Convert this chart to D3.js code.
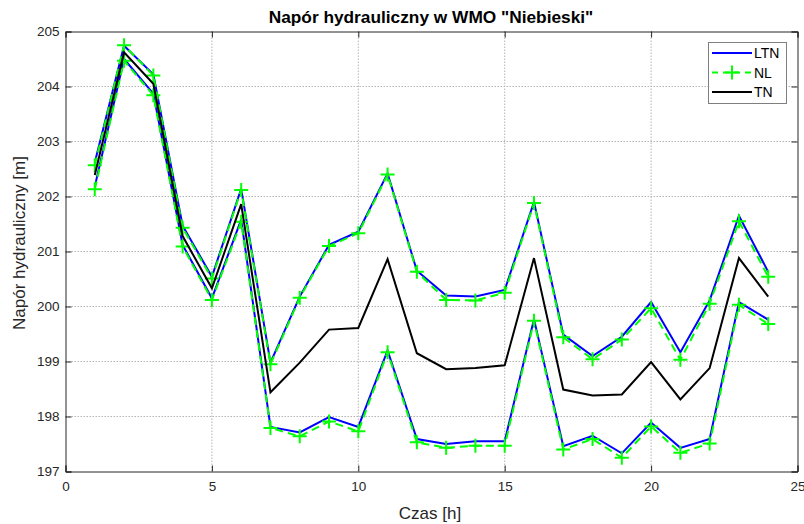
<!DOCTYPE html>
<html><head><meta charset="utf-8">
<script src="https://cdn.jsdelivr.net/npm/d3@7"></script>
<style>body{margin:0;background:#fff}svg{display:block}text{font-family:"Liberation Sans",Arial,sans-serif}</style>
</head><body><svg id="c" width="804" height="524"></svg>
<script>
const hours = d3.range(1, 25);
const ltnUpper = [202.62,204.74,204.22,201.47,200.54,202.14,198.98,200.18,201.12,201.36,202.42,200.65,200.2,200.18,200.3,201.9,199.49,199.1,199.45,200.08,199.17,200.11,201.65,200.63];
const ltnLower = [202.18,204.5,203.87,201.12,200.15,201.58,197.81,197.71,197.99,197.81,199.2,197.59,197.5,197.55,197.55,199.77,197.46,197.65,197.33,197.89,197.43,197.59,200.08,199.76];
const nlUpper  = [202.57,204.75,204.2,201.43,200.51,202.12,198.95,200.16,201.1,201.33,202.4,200.63,200.12,200.11,200.25,201.88,199.44,199.04,199.4,199.97,199.03,200.05,201.55,200.54];
const nlLower  = [202.13,204.47,203.84,201.09,200.12,201.54,197.79,197.64,197.91,197.73,199.17,197.53,197.43,197.47,197.47,199.74,197.4,197.59,197.25,197.82,197.34,197.51,200.03,199.68];
const tn       = [202.39,204.62,204.05,201.28,200.33,201.86,198.44,198.98,199.58,199.61,200.86,199.15,198.86,198.88,198.93,200.88,198.49,198.38,198.4,198.99,198.31,198.88,200.88,200.18];
const xTicks = [0,5,10,15,20,25];
const yTicks = [197,198,199,200,201,202,203,204,205];
const legendNames = ["LTN","NL","TN"];

const svg = d3.select("#c");
const L=65.5, R=797.5, T=31.5, B=471.5;
const x = d3.scaleLinear().domain([0,25]).range([L,R]);
const y = d3.scaleLinear().domain([197,205]).range([B,T]);
const axisCol = "#262626";

// grid
const g = svg.append("g");
g.selectAll(".gx").data(xTicks.slice(1,-1)).join("line")
 .attr("x1",d=>x(d)).attr("x2",d=>x(d)).attr("y1",T).attr("y2",B)
 .attr("stroke","#b4b4b4").attr("stroke-dasharray","1.5,1.5").attr("stroke-width",1);
g.selectAll(".gy").data(yTicks.slice(1,-1)).join("line")
 .attr("y1",d=>y(d)).attr("y2",d=>y(d)).attr("x1",L).attr("x2",R)
 .attr("stroke","#b4b4b4").attr("stroke-dasharray","1.5,1.5").attr("stroke-width",1);

// axes
const ax = svg.append("g").attr("transform",`translate(0,${B})`)
 .call(d3.axisBottom(x).tickValues(xTicks).tickSize(-6).tickPadding(10).tickFormat(d3.format("d")));
const axT = svg.append("g").attr("transform",`translate(0,${T})`)
 .call(d3.axisTop(x).tickValues(xTicks).tickSize(-6).tickFormat(""));
const ay = svg.append("g").attr("transform",`translate(${L},0)`)
 .call(d3.axisLeft(y).tickValues(yTicks).tickSize(-6).tickPadding(6).tickFormat(d3.format("d")));
const ayR = svg.append("g").attr("transform",`translate(${R},0)`)
 .call(d3.axisRight(y).tickValues(yTicks).tickSize(-6).tickFormat(""));
[ax,axT,ay,ayR].forEach(a=>{
  a.selectAll("path").attr("stroke",axisCol).attr("stroke-width",1);
  a.selectAll("line").attr("stroke",axisCol);
  a.selectAll("text").attr("fill",axisCol).style("font-size","13.5px");
});

// lines
const line = d3.line().x((d,i)=>x(hours[i])).y(d=>y(d));
const plot = svg.append("g");
[ltnUpper,ltnLower].forEach(s=>plot.append("path").attr("d",line(s)).attr("fill","none").attr("stroke","#0000ff").attr("stroke-width",2));
[nlUpper,nlLower].forEach(s=>{
  plot.append("path").attr("d",line(s)).attr("fill","none").attr("stroke","#00ff00").attr("stroke-width",2).attr("stroke-dasharray","8,5");
  plot.append("g").selectAll("path").data(s).join("path")
   .attr("d",(d,i)=>{const cx=x(hours[i]),cy=y(d);return `M${cx-7},${cy}H${cx+7}M${cx},${cy-7}V${cy+7}`;})
   .attr("stroke","#00ff00").attr("stroke-width",2);
});
plot.append("path").attr("d",line(tn)).attr("fill","none").attr("stroke","#000").attr("stroke-width",2);

// title & labels
svg.append("text").attr("x",431).attr("y",23).attr("text-anchor","middle")
 .style("font-size","17.3px").style("font-weight","bold").attr("fill","#000")
 .text('Napór hydrauliczny w WMO "Niebieski"');
svg.append("text").attr("x",430).attr("y",519).attr("text-anchor","middle")
 .style("font-size","17px").attr("fill",axisCol).text("Czas [h]");
svg.append("text").attr("transform",`translate(25,243) rotate(-90)`).attr("text-anchor","middle")
 .style("font-size","17px").attr("fill",axisCol).text("Napór hydrauliczny [m]");

// legend
const lg = svg.append("g");
lg.append("rect").attr("x",708.5).attr("y",42.5).attr("width",78).attr("height",61)
 .attr("fill","#fff").attr("stroke","#7f7f7f").attr("stroke-width",1);
const ly = [53,72.5,92];
const styles = [{c:"#0000ff",dash:null,m:false},{c:"#00ff00",dash:"6,5",m:true},{c:"#000",dash:null,m:false}];
legendNames.forEach((n,i)=>{
  const st=styles[i];
  lg.append("line").attr("x1",712).attr("x2",752).attr("y1",ly[i]).attr("y2",ly[i])
    .attr("stroke",st.c).attr("stroke-width",2).attr("stroke-dasharray",st.dash);
  if(st.m) lg.append("path").attr("d",`M${725},${ly[i]}H${739}M${732},${ly[i]-7}V${ly[i]+7}`).attr("stroke",st.c).attr("stroke-width",2);
  lg.append("text").attr("x",754).attr("y",ly[i]+5).style("font-size","14px").attr("fill","#000").text(n);
});
</script></body></html>
